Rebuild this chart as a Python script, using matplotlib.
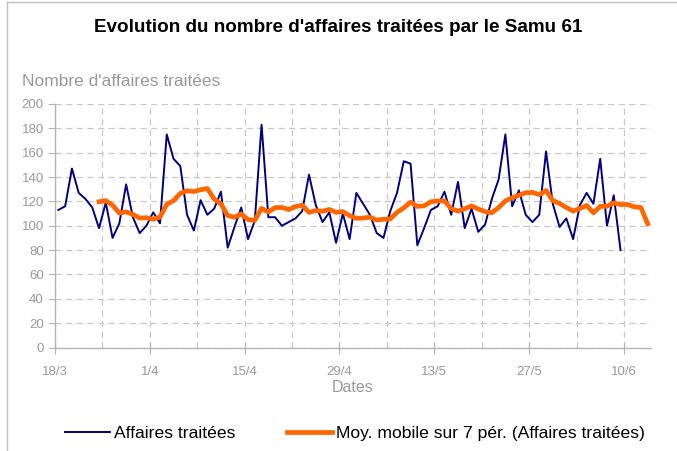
import numpy as np
import matplotlib
matplotlib.use('Agg')
import matplotlib.pyplot as plt
from matplotlib.lines import Line2D

plt.rcParams['font.family'] = ['Liberation Sans', 'DejaVu Sans']

# Affaires traitees par jour, du 18/3 au 9/6
affaires = [113, 116, 147, 127, 122, 115, 98, 119, 90, 102,
            134, 107, 94, 100, 111, 102, 175, 155, 149, 109,
            96, 121, 109, 114, 128, 82, 99, 115, 89, 104,
            183, 107, 107, 100, 103, 106, 112, 142, 117, 103,
            111, 86, 110, 89, 127, 118, 109, 94, 90, 112,
            127, 153, 151, 84, 98, 113, 116, 128, 109, 136,
            98, 114, 95, 101, 122, 138, 175, 116, 129, 109,
            103, 109, 161, 118, 99, 106, 89, 117, 127, 118,
            155, 100, 125, 80]

# moyenne mobile 7 jours, du 24/3 au 13/6
moy_mobile = [119.7, 120.6, 116.9, 110.4, 111.4, 109.3, 106.3, 106.6, 105.4, 107.1,
              117.6, 120.6, 126.6, 128.7, 128.1, 129.6, 130.6, 121.9, 118.0, 108.4,
              107.0, 109.7, 105.1, 104.4, 114.3, 111.3, 114.9, 115.0, 113.3, 115.7,
              116.9, 111.0, 112.4, 111.9, 113.4, 111.0, 111.6, 108.3, 106.1, 106.3,
              107.1, 104.7, 105.3, 105.6, 111.0, 114.7, 119.4, 115.9, 116.4, 119.7,
              120.3, 120.4, 114.1, 112.0, 114.0, 116.3, 113.7, 111.6, 110.7, 114.9,
              120.4, 123.0, 125.1, 127.1, 127.4, 125.6, 128.9, 120.7, 118.3, 115.0,
              112.1, 114.1, 116.7, 110.6, 115.9, 116.0, 118.7, 117.4, 117.5, 115.6,
              115.0, 101.7]
debut_moy = 6  # premier jour de la moyenne (7e point)

tick_labels = ['18/3', '1/4', '15/4', '29/4', '13/5', '27/5', '10/6']

gris = '#999999'
gris_axe = '#b4b4b4'

fig = plt.figure(figsize=(6.77, 4.51), dpi=100)
ax = fig.add_axes([55 / 677, 1 - 347.5 / 451, 596 / 677, 243.5 / 451])

x_aff = np.arange(len(affaires)) + 0.5
x_moy = np.arange(len(moy_mobile)) + debut_moy + 0.5

ax.plot(x_aff, affaires, color='#000080', lw=1.4, zorder=3)
ax.plot(x_moy, moy_mobile, color='#ff6600', lw=3.4, zorder=4,
        solid_joinstyle='round')

ax.set_xlim(0, 88)
ax.set_ylim(0, 200)
ax.set_xticks(np.arange(0, 85, 14))
ax.set_xticklabels(tick_labels)
ax.set_xticks(np.arange(0, 88, 7), minor=True)
ax.set_yticks(np.arange(0, 201, 20))

ax.grid(True, which='both', axis='x', color='#c8c8c8', ls=(0, (5, 3.5)), lw=0.9)
ax.grid(True, axis='y', color='#c8c8c8', ls=(0, (5, 3.5)), lw=0.9)
ax.set_axisbelow(True)

for s in ['top', 'right']:
    ax.spines[s].set_visible(False)
for s in ['left', 'bottom']:
    ax.spines[s].set_color(gris_axe)
    ax.spines[s].set_linewidth(1.0)

ax.tick_params(axis='both', colors=gris_axe, labelcolor=gris, labelsize=9.5)
ax.tick_params(axis='y', length=5, pad=3)
ax.tick_params(axis='x', which='major', direction='inout', length=8, pad=9)
ax.tick_params(axis='x', which='minor', length=0)

ax.set_xlabel('Dates', color=gris, fontsize=11.5, labelpad=2)

fig.text(0.5, 1 - 28 / 451, "Evolution du nombre d'affaires traitées par le Samu 61",
         ha='center', va='center', fontsize=13.6, fontweight='bold')
fig.text(22 / 677, 1 - 82 / 451, "Nombre d'affaires traitées",
         ha='left', va='center', fontsize=12.5, color=gris)

handles = [Line2D([], [], color='#000080', lw=1.4),
           Line2D([], [], color='#ff6600', lw=3.4)]
fig.legend(handles, ['Affaires traitées', 'Moy. mobile sur 7 pér. (Affaires traitées)'],
           loc='center', bbox_to_anchor=(355 / 677, 1 - 433 / 451), ncol=2, frameon=False,
           fontsize=12.6, handlelength=2.6, handletextpad=0.25, columnspacing=2.9)

# cadre du graphique
fig.add_artist(Line2D([7 / 677, 7 / 677], [0, 1 - 1.5 / 451], color='#c0c0c0', lw=1,
                      transform=fig.transFigure))
fig.add_artist(Line2D([7 / 677, 1], [1 - 1.5 / 451, 1 - 1.5 / 451], color='#c0c0c0', lw=1,
                      transform=fig.transFigure))

fig.savefig('out.png', dpi=100)
